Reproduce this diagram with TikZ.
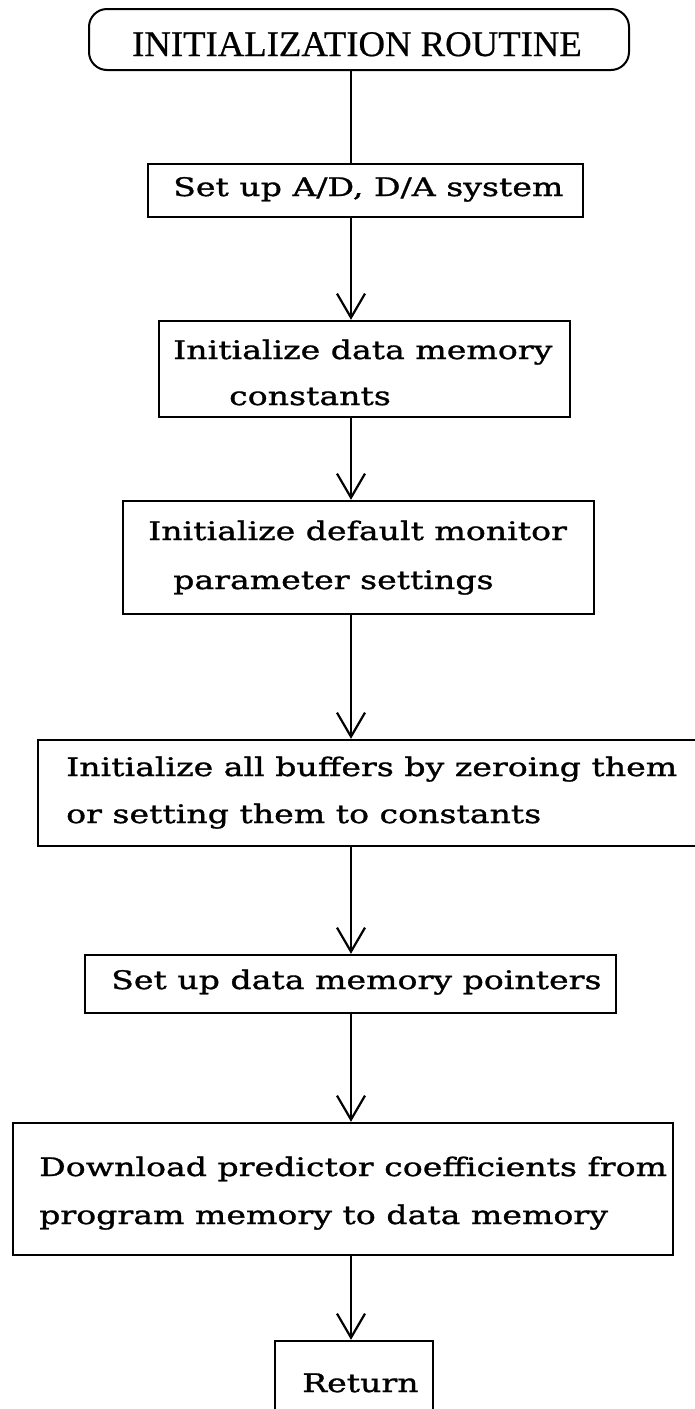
\documentclass[tikz,border=0pt]{standalone}
\usepackage{fontspec}
\usetikzlibrary{arrows.meta}
\newfontfamily\termfont{Liberation Serif}[FakeStretch=1.02,FakeBold=0.6]
\newfontfamily\boxfont{DejaVu Serif}[FakeStretch=1.3,FakeBold=1.2]
\begin{document}
\begin{tikzpicture}[x=1pt,y=-1pt,
  stepbox/.style={draw, rectangle, line width=2.4pt, inner sep=0pt},
  termbox/.style={stepbox, line width=2pt, rounded corners=18pt},
  lbl/.style={anchor=base west, inner sep=0pt, font=\boxfont\fontsize{25.5}{30}\selectfont},
  termlbl/.style={anchor=base, inner sep=0pt, font=\termfont\fontsize{36}{42}\selectfont},
  link/.style={line width=2.2pt},
  arr/.style={link, -{Straight Barb[length=24pt,width=28pt]}}]
\useasboundingbox (0,0) rectangle (694,1409);

% boxes
\node[termbox, minimum width=540pt, minimum height=61pt] (T)   at (359,39.5) {};
\node[stepbox, minimum width=435pt, minimum height=53pt] (b1)  at (365.5,190.5) {};
\node[stepbox, minimum width=411pt, minimum height=96pt] (b2)  at (364.5,369) {};
\node[stepbox, minimum width=471pt, minimum height=113pt] (b3) at (358.5,557.5) {};
\node[stepbox, minimum width=662pt, minimum height=106pt] (b4) at (369,793) {};
\node[stepbox, minimum width=531pt, minimum height=58pt] (b5)  at (350.5,984) {};
\node[stepbox, minimum width=660pt, minimum height=132pt] (b6) at (343,1189) {};
\node[stepbox, minimum width=158pt, minimum height=80pt] (ret) at (354,1381) {};

% texts
\node[termlbl] (Tt) at (357,56) {INITIALIZATION ROUTINE};
\node[lbl] (b1t)  at (173,196)  {Set up A/D, D/A system};
\node[lbl] (b2t1) at (173,359)  {Initialize data memory};
\node[lbl] (b2t2) at (229,405)  {constants};
\node[lbl] (b3t1) at (148,540)  {Initialize default monitor};
\node[lbl] (b3t2) at (173,589)  {parameter settings};
\node[lbl] (b4t1) at (66,776)   {Initialize all buffers by zeroing them};
\node[lbl] (b4t2) at (66,823)   {or setting them to constants};
\node[lbl] (b5t)  at (111,989)  {Set up data memory pointers};
\node[lbl] (b6t1) at (39,1176)  {Download predictor coefficients from};
\node[lbl] (b6t2) at (39,1224)  {program memory to data memory};
\node[lbl] (rett) at (302,1392) {Return};

% connectors along the common spine
\coordinate (spine) at (351,0);
\draw[link] (T.south -| spine) -- (b1.north -| spine);
\draw[arr] (b1.south -| spine) -- (b2.north -| spine);
\draw[arr] (b2.south -| spine) -- (b3.north -| spine);
\draw[arr] (b3.south -| spine) -- (b4.north -| spine);
\draw[arr] (b4.south -| spine) -- (b5.north -| spine);
\draw[arr] (b5.south -| spine) -- (b6.north -| spine);
\draw[arr] (b6.south -| spine) -- (ret.north -| spine);
\end{tikzpicture}
\end{document}
